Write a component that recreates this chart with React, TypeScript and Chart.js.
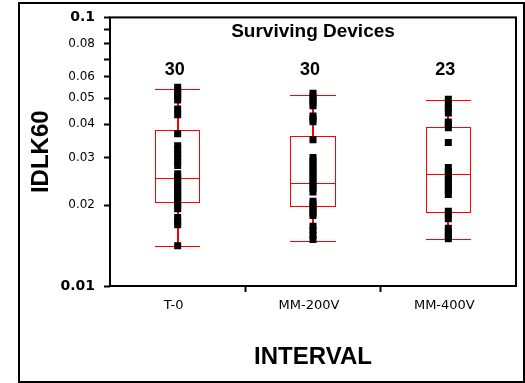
import { useEffect, useRef } from 'react';
import { Chart, registerables } from 'chart.js';

Chart.register(...registerables);

// Test intervals along the x axis
const intervals = ['T-0', 'MM-200V', 'MM-400V'];

// IDLK60 readings of each surviving device, per interval
const idlkT0 = [
  0.0549, 0.0536, 0.052, 0.0507, 0.0493, 0.0456, 0.0434, 0.0369, 0.0333, 0.0322,
  0.0311, 0.0301, 0.029, 0.0281, 0.0262, 0.0255, 0.0248, 0.0241, 0.0234, 0.0228,
  0.0222, 0.0216, 0.021, 0.0205, 0.0199, 0.0194, 0.018, 0.0174, 0.0169, 0.01413,
];
const idlkMM200 = [
  0.0522, 0.0508, 0.0494, 0.0482, 0.0469, 0.0429, 0.0419, 0.0409, 0.035, 0.0301,
  0.0292, 0.0283, 0.0275, 0.0267, 0.0259, 0.0252, 0.0244, 0.0237, 0.0231, 0.0224,
  0.0207, 0.0202, 0.0197, 0.0192, 0.0187, 0.0183, 0.0167, 0.0161, 0.0155, 0.0149,
];
const idlkMM400 = [
  0.0496, 0.0477, 0.0459, 0.0441, 0.0408, 0.0398, 0.0388, 0.0342, 0.0276, 0.0267,
  0.0258, 0.025, 0.0242, 0.0234, 0.0227, 0.0219, 0.019, 0.0184, 0.0178, 0.0164,
  0.0159, 0.0154, 0.015,
];

// Box-and-whisker statistics per interval
const whiskerLow = [0.014, 0.0147, 0.0149];
const quartile1 = [0.0204, 0.0197, 0.0187];
const medians = [0.0252, 0.0241, 0.0261];
const quartile3 = [0.0379, 0.0359, 0.0388];
const whiskerHigh = [0.0541, 0.0514, 0.0489];

// Log axis ticks and their labels (blank = unlabelled tick)
const yTickValues = [0.01, 0.02, 0.03, 0.04, 0.05, 0.06, 0.07, 0.08, 0.09, 0.1];
const yTickLabels = ['0.01', '0.02', '0.03', '0.04', '0.05', '0.06', '', '0.08', '', '0.1'];
const yEmphasisTicks = [0.01, 0.1];

const groups = [idlkT0, idlkMM200, idlkMM400];

const RED = '#ff0000';
const BLACK = '#000000';

const crisp = (v: number) => Math.round(v - 0.5) + 0.5;

const boxPlotPlugin = {
  id: 'boxPlot',
  beforeDatasetsDraw(chart: any) {
    const { ctx } = chart;
    const xs = chart.scales.x;
    const ys = chart.scales.y;
    const step = xs.getPixelForValue(1) - xs.getPixelForValue(0);
    const half = (step * 0.334) / 2;
    ctx.save();
    ctx.strokeStyle = RED;
    intervals.forEach((_, i) => {
      const x = xs.getPixelForValue(i);
      const l = Math.round(x - half);
      const r = Math.round(x + half);
      const yLo = ys.getPixelForValue(whiskerLow[i]);
      const yQ1 = ys.getPixelForValue(quartile1[i]);
      const yMed = ys.getPixelForValue(medians[i]);
      const yQ3 = ys.getPixelForValue(quartile3[i]);
      const yHi = ys.getPixelForValue(whiskerHigh[i]);
      const cx = Math.round(x);

      // whisker stems
      ctx.lineWidth = 2;
      ctx.beginPath();
      ctx.moveTo(cx, yHi);
      ctx.lineTo(cx, yQ3);
      ctx.moveTo(cx, yQ1);
      ctx.lineTo(cx, yLo);
      ctx.stroke();

      // caps, box and median
      ctx.lineWidth = 1;
      ctx.beginPath();
      ctx.moveTo(l, crisp(yHi));
      ctx.lineTo(r, crisp(yHi));
      ctx.moveTo(l, crisp(yLo));
      ctx.lineTo(r, crisp(yLo));
      ctx.moveTo(l, crisp(yMed));
      ctx.lineTo(r, crisp(yMed));
      ctx.stroke();
      ctx.strokeRect(l + 0.5, crisp(yQ3), r - l - 1, crisp(yQ1) - crisp(yQ3));
    });
    ctx.restore();
  },
};

const annotationPlugin = {
  id: 'annotations',
  afterDatasetsDraw(chart: any) {
    const { ctx, chartArea } = chart;
    const xs = chart.scales.x;
    ctx.save();
    ctx.fillStyle = BLACK;
    ctx.textAlign = 'center';
    ctx.textBaseline = 'alphabetic';
    ctx.font = 'bold 19px "Liberation Sans", Arial, sans-serif';
    ctx.fillText('Surviving Devices', (chartArea.left + chartArea.right) / 2, chartArea.top + 20);
    ctx.font = 'bold 18px "Liberation Sans", Arial, sans-serif';
    groups.forEach((g, i) => {
      ctx.fillText(String(g.length), xs.getPixelForValue(i) - 3, chartArea.top + 57.5);
    });
    ctx.restore();
  },
};

const framePlugin = {
  id: 'frames',
  afterDraw(chart: any) {
    const { ctx, chartArea } = chart;
    ctx.save();
    ctx.strokeStyle = BLACK;
    ctx.lineWidth = 2;
    ctx.strokeRect(
      chartArea.left,
      chartArea.top,
      chartArea.right - chartArea.left,
      chartArea.bottom - chartArea.top
    );
    ctx.strokeRect(19, 3, 505, 379);
    ctx.restore();
  },
};

export default function App() {
  const canvasRef = useRef<HTMLCanvasElement | null>(null);

  useEffect(() => {
    const canvas = canvasRef.current;
    if (!canvas) return;

    const points: { x: string; y: number }[] = [];
    groups.forEach((g, i) => g.forEach((v) => points.push({ x: intervals[i], y: v })));

    const chart = new Chart(canvas, {
      type: 'scatter',
      data: {
        labels: intervals,
        datasets: [
          {
            label: 'IDLK60',
            data: points as any,
            pointStyle: 'rect',
            pointRadius: 4.95,
            pointHoverRadius: 4.95,
            pointBorderWidth: 0,
            pointBackgroundColor: BLACK,
            backgroundColor: BLACK,
            borderColor: BLACK,
            showLine: false,
          },
        ],
      },
      options: {
        responsive: false,
        animation: false,
        devicePixelRatio: 1,
        layout: { padding: { left: 0, right: 9, top: 15, bottom: 0 } },
        plugins: {
          legend: { display: false },
          tooltip: { enabled: false },
          title: { display: false },
        },
        scales: {
          x: {
            type: 'category',
            labels: intervals,
            offset: true,
            border: { display: false },
            grid: {
              offset: true,
              drawOnChartArea: false,
              drawTicks: true,
              tickLength: 6,
              tickWidth: 2,
              tickColor: (c: any) =>
                c.type === 'tick' && c.index > 0 ? BLACK : 'rgba(0,0,0,0)',
            },
            ticks: {
              color: BLACK,
              padding: 6,
              labelOffset: -4,
              maxRotation: 0,
              autoSkip: false,
              font: { family: '"DejaVu Sans", sans-serif', size: 13 },
            },
            title: {
              display: true,
              text: 'INTERVAL',
              color: BLACK,
              font: { family: '"Liberation Sans", Arial, sans-serif', size: 24, weight: 'bold' },
              padding: { top: 0, bottom: 11 },
            },
            afterFit: (s: any) => {
              s.height = 97;
            },
          },
          y: {
            type: 'logarithmic',
            min: 0.01,
            max: 0.1,
            border: { display: false },
            grid: {
              drawOnChartArea: false,
              drawTicks: true,
              tickLength: 6,
              tickWidth: 2,
              tickColor: BLACK,
            },
            afterBuildTicks: (s: any) => {
              s.ticks = yTickValues.map((v) => ({ value: v }));
            },
            ticks: {
              color: BLACK,
              padding: 9,
              autoSkip: false,
              callback: (_v: any, index: number) => yTickLabels[index],
              font: (c: any) => {
                const v = c.tick ? c.tick.value : 0;
                const strong = yEmphasisTicks.some((t) => Math.abs(t - v) < 1e-9);
                return strong
                  ? { family: '"DejaVu Sans", sans-serif', size: 14, weight: 'bold' }
                  : { family: '"DejaVu Sans", sans-serif', size: 12 };
              },
            },
            title: {
              display: true,
              text: 'IDLK60',
              color: BLACK,
              font: { family: '"Liberation Sans", Arial, sans-serif', size: 24, weight: 'bold' },
              padding: { top: 26.6, bottom: 0 },
            },
            afterFit: (s: any) => {
              s.width = 110;
            },
          },
        },
      } as any,
      plugins: [boxPlotPlugin, annotationPlugin, framePlugin],
    });

    return () => chart.destroy();
  }, []);

  return (
    <div style={{ position: 'absolute', left: 0, top: 0, width: 525, height: 383, background: '#fff' }}>
      <canvas ref={canvasRef} width={525} height={383} style={{ display: 'block' }} />
    </div>
  );
}
